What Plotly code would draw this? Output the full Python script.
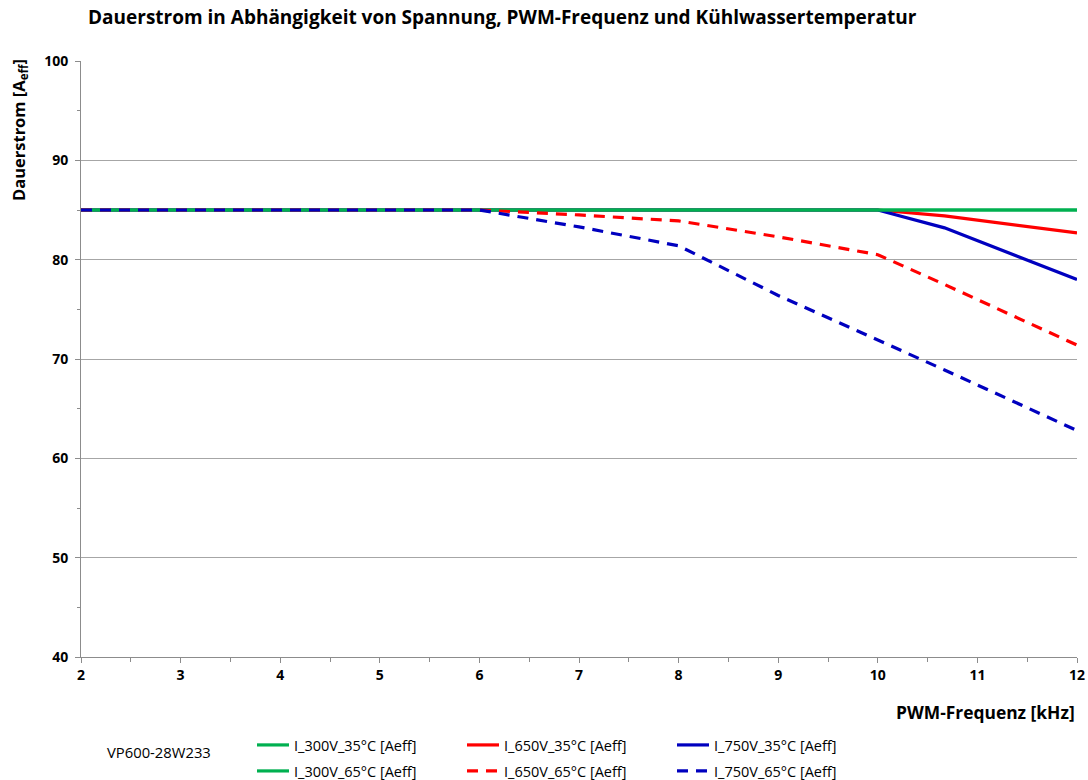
import plotly.graph_objects as go

# Data (PWM frequency in kHz, continuous current in A_eff)
freq_35 = [2, 6, 8, 10, 10.67, 12]
i_300v_35 = [85, 85, 85, 85, 85, 85]
i_650v_35 = [85, 85, 85, 85, 84.4, 82.7]
i_750v_35 = [85, 85, 85, 85, 83.2, 78.0]

freq_65 = [2, 6, 7, 8, 9, 10, 10.67, 12]
i_300v_65 = [85, 85, 85, 85, 85, 85, 85, 85]
i_650v_65 = [85, 85, 84.5, 83.9, 82.3, 80.5, 77.5, 71.4]
i_750v_65 = [85, 85, 83.3, 81.4, 76.4, 71.9, 68.9, 62.8]

names = ["I_300V_35°C [Aeff]", "I_650V_35°C [Aeff]", "I_750V_35°C [Aeff]",
         "I_300V_65°C [Aeff]", "I_650V_65°C [Aeff]", "I_750V_65°C [Aeff]"]

GREEN = "#00B050"
RED = "#FF0000"
BLUE = "#0000BF"
DASH = "11px,8px"

fig = go.Figure()
# drawing order: solid red/blue under green, dashed on top
series = [
    (freq_35, i_650v_35, names[1], RED, "solid", "legend", 2),
    (freq_35, i_750v_35, names[2], BLUE, "solid", "legend", 3),
    (freq_35, i_300v_35, names[0], GREEN, "solid", "legend", 1),
    (freq_65, i_300v_65, names[3], GREEN, "solid", "legend2", 1),
    (freq_65, i_650v_65, names[4], RED, DASH, "legend2", 2),
    (freq_65, i_750v_65, names[5], BLUE, DASH, "legend2", 3),
]
for x, y, n, c, d, lg, rank in series:
    fig.add_trace(go.Scatter(x=x, y=y, name=n, mode="lines", legend=lg, legendrank=rank,
                             line=dict(color=c, width=3.2, dash=d)))

font_family = "Open Sans, DejaVu Sans, sans-serif"

legend_common = dict(orientation="h", x=(252-81)/996, xanchor="left", yanchor="middle",
                     entrywidth=163, entrywidthmode="pixels",
                     itemwidth=32, tracegroupgap=0, traceorder="normal",
                     font=dict(size=14.5, family=font_family, color="black"),
                     bgcolor="rgba(0,0,0,0)")

fig.update_layout(
    width=1088, height=780,
    margin=dict(l=81, r=11, t=61, b=123, autoexpand=False),
    paper_bgcolor="white", plot_bgcolor="white",
    font=dict(family=font_family, color="black", size=14),
    title=dict(text="<b>Dauerstrom in Abhängigkeit von Spannung, PWM-Frequenz und Kühlwassertemperatur</b>",
               x=88/1088, xanchor="left", y=1 - 17/780, yanchor="middle",
               font=dict(size=19, family=font_family, color="black")),
    showlegend=True,
    legend=dict(y=-(745-657)/596, **legend_common),
    legend2=dict(y=-(771-657)/596, **legend_common),
)

fig.update_xaxes(range=[2, 12], tickvals=[2, 3, 4, 5, 6, 7, 8, 9, 10, 11, 12],
                 showgrid=False, showline=True, linecolor="#8C8C8C", linewidth=1,
                 ticks="outside", ticklen=5, tickcolor="#8C8C8C", automargin=False,
                 minor=dict(dtick=0.5, ticks="outside", ticklen=4, tickcolor="#8C8C8C", showgrid=False),
                 tickfont=dict(size=14, family=font_family, color="black", weight="bold"),
                 zeroline=False)
fig.update_yaxes(range=[40, 100], tickvals=[40, 50, 60, 70, 80, 90, 100],
                 showgrid=True, gridcolor="#A6A6A6", gridwidth=1,
                 showline=True, linecolor="#8C8C8C", linewidth=1,
                 ticks="outside", ticklen=5, tickcolor="#8C8C8C", automargin=False,
                 minor=dict(dtick=5, ticks="outside", ticklen=3, tickcolor="#8C8C8C", showgrid=False),
                 tickfont=dict(size=14, family=font_family, color="black", weight="bold"),
                 ticklabelstandoff=4,
                 zeroline=False)

fig.add_annotation(text="<b>Dauerstrom [A<sub>eff</sub>]</b>", xref="paper", yref="paper",
                   x=-(81-19)/996, xanchor="center", y=(657-130)/596, yanchor="middle",
                   textangle=-90, showarrow=False,
                   font=dict(size=16.5, family=font_family, color="black"))
fig.add_annotation(text="<b>PWM-Frequenz [kHz]</b>", xref="paper", yref="paper",
                   x=1, xanchor="right", y=-(712-657)/596, yanchor="middle",
                   showarrow=False, font=dict(size=17.4, family=font_family, color="black"))
fig.add_annotation(text="VP600-28W233", xref="paper", yref="paper",
                   x=(105-81)/996, xanchor="left", y=-(752-657)/596, yanchor="middle",
                   showarrow=False, font=dict(size=14.8, family=font_family, color="black"))

fig.write_html("out.html", config={"displayModeBar": False},
               post_script="document.body.style.margin='0';document.body.style.overflow='hidden';")
